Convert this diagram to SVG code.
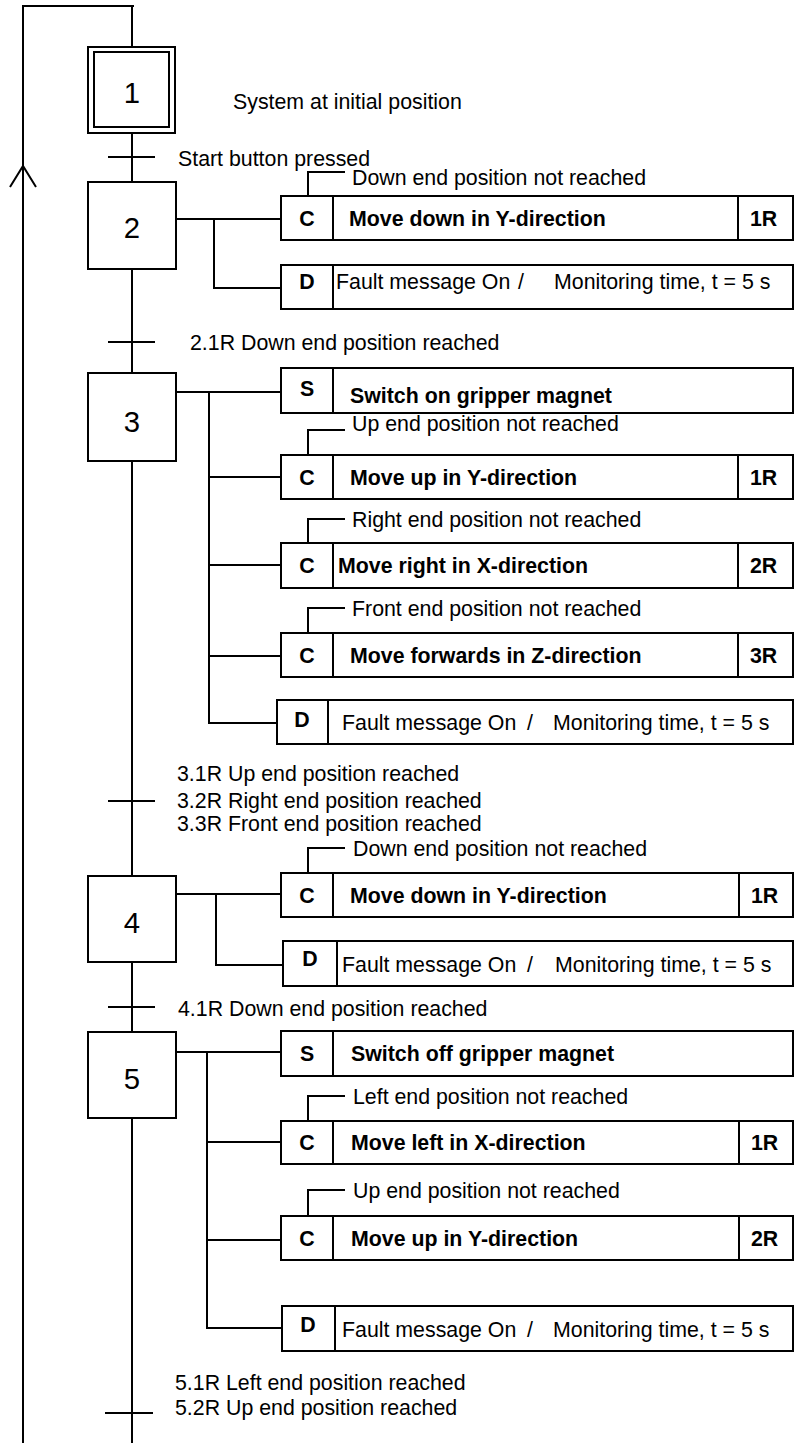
<svg xmlns="http://www.w3.org/2000/svg" width="795" height="1443" viewBox="0 0 795 1443">
<style>
.box{fill:#fff;stroke:#000;stroke-width:2}
.ln{fill:none;stroke:#000;stroke-width:2}
text{font-family:"Liberation Sans",Arial,sans-serif;font-size:21.33px;fill:#000}
.b{font-weight:bold}
.m{text-anchor:middle}
.num{font-size:29.3px;text-anchor:middle}
</style>
<rect width="795" height="1443" fill="#fff"/>
<g id="connectors">
<path class="ln" d="M22,6 H134" stroke-width="3"/>
<path class="ln" d="M23,6 V1443"/>
<path class="ln" d="M10,187 L23,166 L36,187"/>
<path class="ln" d="M132,6 V47 M132,133 V182 M132,269 V373 M132,461 V876 M132,962 V1032 M132,1118 V1443"/>
<path class="ln" d="M108,157 H155 M108,342 H155 M108,801 H155 M108,1007 H155 M105,1413 H153"/>
<path class="ln" d="M176,219 H281 M214,219 V288 H281"/>
<path class="ln" d="M176,392 H281 M209,392 V723 H277 M209,477 H281 M209,565 H281 M209,656 H281"/>
<path class="ln" d="M176,894 H281 M216,894 V965 H283"/>
<path class="ln" d="M176,1052 H281 M207,1052 V1328 H282 M207,1142 H281 M207,1240 H281"/>
<path class="ln" d="M308,196 V172 H345 M308,455 V430 H345 M308,543 V519 H345 M308,633 V608 H345 M308,873 V848 H345 M308,1121 V1096 H345 M308,1216 V1190 H345"/>
</g>
<g id="transitions">
<text x="178" y="166">Start button pressed</text>
<text x="190" y="350">2.1R Down end position reached</text>
<text x="177" y="781">3.1R Up end position reached</text>
<text x="177" y="808">3.2R Right end position reached</text>
<text x="177" y="831">3.3R Front end position reached</text>
<text x="178" y="1016">4.1R Down end position reached</text>
<text x="175" y="1390">5.1R Left end position reached</text>
<text x="175" y="1415">5.2R Up end position reached</text>
</g>
<g id="step1">
<rect class="box" x="88" y="47" width="87" height="86"/>
<rect class="box" x="94" y="52" width="75" height="75"/>
<text class="num" x="132" y="103">1</text>
<text x="233" y="109">System at initial position</text>
</g>
<g id="step2">
<rect class="box" x="88" y="182" width="88" height="87"/>
<text class="num" x="132" y="238">2</text>
</g>
<g id="action2C">
<rect class="box" x="281" y="196" width="512" height="44"/>
<path class="ln" d="M333,196 V240 M738,196 V240"/>
<text class="b m" x="307" y="226">C</text>
<text class="b" x="349" y="226">Move down in Y-direction</text>
<text class="b" x="750" y="226">1R</text>
<text x="352" y="185">Down end position not reached</text>
</g>
<g id="action2D">
<rect class="box" x="281" y="265" width="512" height="44"/>
<path class="ln" d="M333,265 V309"/>
<text class="b m" x="307" y="289">D</text>
<text x="336" y="289">Fault message On</text>
<text x="518" y="289">/</text>
<text x="554" y="289">Monitoring time, t = 5 s</text>
</g>
<g id="step3">
<rect class="box" x="88" y="373" width="88" height="88"/>
<text class="num" x="132" y="432">3</text>
</g>
<g id="action3S">
<rect class="box" x="281" y="368" width="512" height="45"/>
<path class="ln" d="M333,368 V413"/>
<text class="b m" x="307" y="396">S</text>
<text class="b" x="350" y="403">Switch on gripper magnet</text>
</g>
<g id="action3C1">
<rect class="box" x="281" y="455" width="512" height="44"/>
<path class="ln" d="M333,455 V499 M738,455 V499"/>
<text class="b m" x="307" y="485">C</text>
<text class="b" x="350" y="485">Move up in Y-direction</text>
<text class="b" x="750" y="485">1R</text>
<text x="352" y="431">Up end position not reached</text>
</g>
<g id="action3C2">
<rect class="box" x="281" y="543" width="512" height="45"/>
<path class="ln" d="M333,543 V588 M738,543 V588"/>
<text class="b m" x="307" y="573">C</text>
<text class="b" x="338" y="573">Move right in X-direction</text>
<text class="b" x="750" y="573">2R</text>
<text x="352" y="527">Right end position not reached</text>
</g>
<g id="action3C3">
<rect class="box" x="281" y="633" width="512" height="44"/>
<path class="ln" d="M333,633 V677 M738,633 V677"/>
<text class="b m" x="307" y="663">C</text>
<text class="b" x="350" y="663">Move forwards in Z-direction</text>
<text class="b" x="750" y="663">3R</text>
<text x="352" y="616">Front end position not reached</text>
</g>
<g id="action3D">
<rect class="box" x="277" y="700" width="516" height="44"/>
<path class="ln" d="M328,700 V744"/>
<text class="b m" x="302" y="727">D</text>
<text x="342" y="730">Fault message On</text>
<text x="527" y="730">/</text>
<text x="553" y="730">Monitoring time, t = 5 s</text>
</g>
<g id="step4">
<rect class="box" x="88" y="876" width="88" height="86"/>
<text class="num" x="132" y="933">4</text>
</g>
<g id="action4C">
<rect class="box" x="281" y="873" width="512" height="44"/>
<path class="ln" d="M333,873 V917 M739,873 V917"/>
<text class="b m" x="307" y="903">C</text>
<text class="b" x="350" y="903">Move down in Y-direction</text>
<text class="b" x="751" y="903">1R</text>
<text x="353" y="856">Down end position not reached</text>
</g>
<g id="action4D">
<rect class="box" x="283" y="941" width="510" height="45"/>
<path class="ln" d="M337,941 V986"/>
<text class="b m" x="310" y="966">D</text>
<text x="342" y="972">Fault message On</text>
<text x="527" y="972">/</text>
<text x="555" y="972">Monitoring time, t = 5 s</text>
</g>
<g id="step5">
<rect class="box" x="88" y="1032" width="88" height="86"/>
<text class="num" x="132" y="1089">5</text>
</g>
<g id="action5S">
<rect class="box" x="281" y="1031" width="512" height="45"/>
<path class="ln" d="M333,1031 V1076"/>
<text class="b m" x="307" y="1061">S</text>
<text class="b" x="351" y="1061">Switch off gripper magnet</text>
</g>
<g id="action5C1">
<rect class="box" x="281" y="1121" width="512" height="43"/>
<path class="ln" d="M333,1121 V1164 M739,1121 V1164"/>
<text class="b m" x="307" y="1150">C</text>
<text class="b" x="351" y="1150">Move left in X-direction</text>
<text class="b" x="751" y="1150">1R</text>
<text x="353" y="1104">Left end position not reached</text>
</g>
<g id="action5C2">
<rect class="box" x="281" y="1216" width="512" height="44"/>
<path class="ln" d="M333,1216 V1260 M739,1216 V1260"/>
<text class="b m" x="307" y="1246">C</text>
<text class="b" x="351" y="1246">Move up in Y-direction</text>
<text class="b" x="751" y="1246">2R</text>
<text x="353" y="1198">Up end position not reached</text>
</g>
<g id="action5D">
<rect class="box" x="282" y="1306" width="511" height="45"/>
<path class="ln" d="M335,1306 V1351"/>
<text class="b m" x="308" y="1332">D</text>
<text x="342" y="1337">Fault message On</text>
<text x="527" y="1337">/</text>
<text x="553" y="1337">Monitoring time, t = 5 s</text>
</g>
</svg>
